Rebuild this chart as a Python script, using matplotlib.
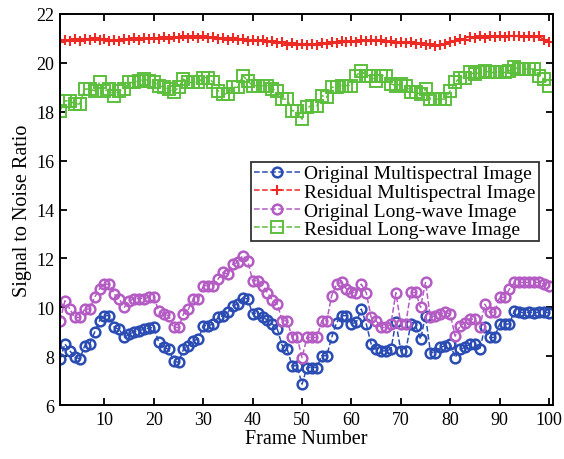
import matplotlib
matplotlib.use("Agg")
import matplotlib.pyplot as plt
import numpy as np

plt.rcParams['font.family'] = ['Liberation Serif', 'DejaVu Serif']

frames = list(range(1, 101))

orig_ms = [7.88, 8.5, 8.22, 7.96, 7.9, 8.43, 8.5, 8.98, 9.45, 9.66,
           9.66, 9.18, 9.1, 8.77, 8.9, 9.0, 9.05, 9.1, 9.15, 9.18,
           8.57, 8.36, 8.29, 7.81, 7.75, 8.29, 8.43, 8.64, 8.7, 9.25,
           9.25, 9.32, 9.59, 9.66, 9.8, 10.07, 10.13, 10.4, 10.34, 9.73,
           9.79, 9.59, 9.49, 9.32, 9.11, 8.43, 8.29, 7.61, 7.61, 6.86,
           7.54, 7.54, 7.54, 8.02, 8.02, 8.77, 9.38, 9.66, 9.66, 9.32,
           9.4, 9.93, 9.32, 8.5, 8.29, 8.22, 8.22, 8.29, 9.4, 8.22,
           8.22, 9.3, 9.25, 8.7, 9.66, 8.15, 8.15, 8.36, 8.43, 8.5,
           7.95, 8.29, 8.36, 8.5, 8.5, 8.29, 9.18, 8.77, 8.77, 9.32,
           9.32, 9.32, 9.87, 9.8, 9.78, 9.8, 9.78, 9.8, 9.8, 9.78]

resid_ms = [20.85, 20.95, 20.88, 20.97, 20.90, 20.98, 20.92, 21.00, 20.93, 20.98,
            20.90, 20.95, 20.88, 20.96, 20.92, 21.00, 20.95, 21.02, 20.96, 21.03,
            20.97, 21.04, 20.98, 21.05, 21.00, 21.08, 21.02, 21.10, 21.03, 21.08,
            21.00, 21.05, 20.97, 21.03, 20.95, 21.00, 20.93, 20.98, 20.90, 20.95,
            20.88, 20.92, 20.85, 20.88, 20.80, 20.84, 20.75, 20.80, 20.72, 20.78,
            20.72, 20.78, 20.74, 20.80, 20.76, 20.84, 20.80, 20.88, 20.84, 20.90,
            20.86, 20.92, 20.88, 20.94, 20.88, 20.92, 20.85, 20.90, 20.82, 20.87,
            20.80, 20.85, 20.78, 20.82, 20.74, 20.78, 20.70, 20.74, 20.76, 20.85,
            20.90, 20.98, 20.95, 21.04, 21.00, 21.08, 21.03, 21.10, 21.05, 21.10,
            21.06, 21.12, 21.08, 21.12, 21.06, 21.10, 21.05, 21.08, 20.95, 20.85]

orig_lw = [9.45, 10.27, 9.93, 9.59, 9.59, 9.93, 9.93, 10.41, 10.75, 10.95,
           10.95, 10.54, 10.34, 10.0, 10.27, 10.34, 10.36, 10.36, 10.41, 10.41,
           9.86, 9.73, 9.66, 9.18, 9.18, 9.73, 9.93, 10.34, 10.34, 10.89,
           10.89, 10.89, 11.16, 11.43, 11.36, 11.77, 11.84, 12.11, 11.9, 11.09,
           11.09, 10.89, 10.6, 10.3, 10.13, 9.45, 9.45, 8.77, 8.77, 7.95,
           8.77, 8.77, 8.77, 9.45, 9.45, 10.48, 10.95, 11.02, 10.75, 10.61,
           10.6, 10.95, 10.6, 9.59, 9.45, 9.18, 9.18, 9.32, 10.6, 9.32,
           9.32, 10.61, 10.61, 10.0, 11.02, 9.59, 9.66, 9.73, 9.8, 9.73,
           8.82, 9.25, 9.38, 9.52, 9.52, 9.18, 10.13, 9.8, 9.8, 10.41,
           10.41, 10.75, 11.02, 11.02, 11.02, 11.02, 11.02, 11.02, 10.95, 10.89]

resid_lw = [18.04, 18.45, 18.45, 18.32, 18.32, 18.93, 18.93, 18.86, 19.2, 18.86,
            18.93, 18.66, 18.86, 18.93, 19.2, 19.2, 19.27, 19.34, 19.27, 19.2,
            19.07, 19.0, 18.93, 18.8, 19.0, 19.34, 19.2, 19.2, 19.2, 19.4,
            19.4, 19.2, 18.86, 18.73, 18.73, 19.0, 19.0, 19.48, 19.27, 19.07,
            19.07, 19.07, 19.07, 18.93, 18.86, 18.52, 18.52, 18.04, 18.04, 17.7,
            18.18, 18.25, 18.25, 18.66, 18.6, 19.0, 19.0, 19.07, 19.07, 19.07,
            19.48, 19.68, 19.48, 19.48, 19.27, 19.48, 19.48, 19.14, 19.07, 19.14,
            19.07, 18.8, 18.8, 18.73, 18.93, 18.52, 18.52, 18.52, 18.52, 18.86,
            19.2, 19.4, 19.4, 19.61, 19.54, 19.61, 19.68, 19.61, 19.61, 19.61,
            19.61, 19.68, 19.82, 19.75, 19.75, 19.75, 19.75, 19.48, 19.34, 19.07]

labels = ['Original Multispectral Image', 'Residual Multispectral Image',
          'Original Long-wave Image', 'Residual Long-wave Image']
colors = ['#2b4db3', '#ee2a24', '#b45cc4', '#5cbf3c']

fig = plt.figure(figsize=(5.64, 4.6), dpi=100)
ax = fig.add_axes([0.1064, 0.117, 0.874, 0.8504])

ax.plot(frames, orig_ms, linestyle='--', color=colors[0], marker='o', ms=7,
        mfc='none', mec=colors[0], mew=1.8, lw=1.1, label=labels[0])
ax.plot(frames, resid_ms, linestyle='--', color=colors[1], marker='+', ms=7,
        mec=colors[1], mew=1.5, lw=1.1, label=labels[1])
ax.plot(frames, orig_lw, linestyle='--', color=colors[2], marker='o', ms=7,
        mfc='none', mec=colors[2], mew=1.8, lw=1.1, label=labels[2])
ax.plot(frames, resid_lw, linestyle='--', color=colors[3], marker='s', ms=8,
        mfc='none', mec=colors[3], mew=1.4, lw=1.1, label=labels[3])

ax.set_xlim(1, 100.8)
ax.set_ylim(6, 22)
ax.set_xticks(range(10, 101, 10))
ax.set_yticks(range(6, 23, 2))
ax.tick_params(direction='in', top=True, right=True, labelsize=13,
               length=5, width=1.3, pad=4)
for s in ax.spines.values():
    s.set_linewidth(1.4)

ax.set_xlabel('Frame Number', fontsize=14.5, labelpad=1)
ax.set_ylabel('Signal to Noise Ratio', fontsize=14.5, labelpad=3)

leg = ax.legend(loc='upper left', bbox_to_anchor=(0.387, 0.622), fontsize=14,
                frameon=True, fancybox=False, edgecolor='black',
                handlelength=2.4, handletextpad=0.2, borderpad=0.15,
                labelspacing=0.05, borderaxespad=0.0)
leg.get_frame().set_linewidth(1.3)

fig.savefig('out.png', dpi=100)
